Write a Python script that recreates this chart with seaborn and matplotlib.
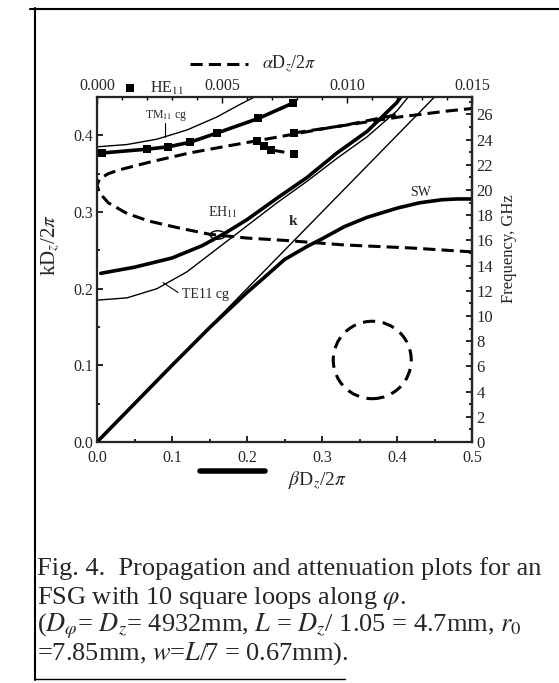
import numpy as np
import pandas as pd
import seaborn as sns
import matplotlib.pyplot as plt
from matplotlib.lines import Line2D
from matplotlib.patches import Ellipse
from matplotlib.ticker import MultipleLocator

# ---- datos (beta D/2pi , k D/2pi) ----
k_x = [0.0, 0.5]
k_y = [0.0, 0.5]

sw_x = [0.0, 0.05, 0.1, 0.15, 0.2, 0.22, 0.25, 0.28, 0.3, 0.33, 0.36, 0.4, 0.43, 0.46, 0.48, 0.5]
sw_y = [0.0, 0.05, 0.1, 0.149, 0.195, 0.212, 0.238, 0.255, 0.265, 0.281, 0.293, 0.305, 0.312, 0.316, 0.317, 0.317]

eh_x = [0.005, 0.05, 0.1, 0.14, 0.17, 0.2, 0.24, 0.28, 0.32, 0.36, 0.40, 0.405]
eh_y = [0.22, 0.228, 0.24, 0.256, 0.272, 0.29, 0.318, 0.345, 0.377, 0.405, 0.443, 0.45]

te_x = [0.0, 0.04, 0.08, 0.12, 0.16, 0.2, 0.24, 0.28, 0.32, 0.36, 0.40, 0.415]
te_y = [0.185, 0.188, 0.2, 0.222, 0.252, 0.282, 0.312, 0.34, 0.37, 0.398, 0.432, 0.45]

tm_x = [0.0, 0.04, 0.08, 0.12, 0.16, 0.19, 0.21]
tm_y = [0.385, 0.388, 0.395, 0.407, 0.424, 0.44, 0.45]

he_x = [0.007, 0.067, 0.095, 0.124, 0.16, 0.215, 0.261]
he_y = [0.377, 0.382, 0.385, 0.391, 0.403, 0.422, 0.442]

# ---- atenuacion (alpha D/2pi , k D/2pi) ----
att_a = [0.0150, 0.0126, 0.0099, 0.0075, 0.0060, 0.0045, 0.0033, 0.0021, 0.0012, 0.00045, 0.0001, 0.0,
         0.0001, 0.00045, 0.0009, 0.0021, 0.0037, 0.0052, 0.0071, 0.0093, 0.0121, 0.0141, 0.0150]
att_y = [0.248, 0.253, 0.257, 0.263, 0.266, 0.271, 0.279, 0.288, 0.298, 0.312, 0.325, 0.335,
         0.343, 0.350, 0.355, 0.365, 0.377, 0.386, 0.397, 0.410, 0.424, 0.432, 0.435]

he_att_a = [0.00639, 0.00666, 0.00696, 0.00786]
he_att_y = [0.393, 0.386, 0.381, 0.376]
he_att2_a = [0.00786, 0.0099, 0.0120]
he_att2_y = [0.403, 0.413, 0.427]

c_over_D = 3e8 / 4.932e-3 / 1e9  # GHz por unidad de kD/2pi

sns.set_theme(style="ticks")
plt.rcParams['font.family'] = ['Liberation Serif', 'DejaVu Serif']
plt.rcParams['mathtext.fontset'] = 'stix'
plt.rcParams['xtick.direction'] = 'in'
plt.rcParams['ytick.direction'] = 'in'

fig = plt.figure(figsize=(5.59, 6.83), dpi=100)
ax = fig.add_axes([97/559, 1-442/683, 375/559, 345/683])

thick = 2.6
thin = 1.0
dash = (0, (4, 2))

sns.lineplot(x=k_x, y=k_y, ax=ax, color='black', lw=thin, sort=False, estimator=None)
sns.lineplot(x=sw_x, y=sw_y, ax=ax, color='black', lw=thick, sort=False, estimator=None)
sns.lineplot(x=eh_x, y=eh_y, ax=ax, color='black', lw=thick, sort=False, estimator=None)
sns.lineplot(x=te_x, y=te_y, ax=ax, color='black', lw=thin, sort=False, estimator=None)
sns.lineplot(x=tm_x, y=tm_y, ax=ax, color='black', lw=thin, sort=False, estimator=None)
sns.lineplot(x=he_x, y=he_y, ax=ax, color='black', lw=thick, sort=False, estimator=None,
             marker='s', markersize=6, markeredgewidth=0)

ax.set_xlim(0, 0.5)
ax.set_ylim(0, 0.45)
ax.xaxis.set_minor_locator(MultipleLocator(0.05))
ax.yaxis.set_minor_locator(MultipleLocator(0.05))
ax.set_yticks([0.0, 0.1, 0.2, 0.3, 0.4])
ax.set_yticklabels(['0.0', '0.1', '0.2', '0.3', '0.4'])
ax.set_xticks([0.0, 0.1, 0.2, 0.3, 0.4, 0.5])
ax.set_xticklabels(['0.0', '0.1', '0.2', '0.3', '0.4', '0.5'])
ax.tick_params(which='both', labelsize=11.5, width=1.2, color='black')
ax.tick_params(axis='x', pad=6)
ax.tick_params(axis='y', pad=3)
ax.tick_params(which='major', length=4)
ax.tick_params(which='minor', length=2.5)
ax.set_xlabel('')
ax.set_ylabel(r'kD$_z$/2$\pi$', fontsize=15)
ax.yaxis.set_label_coords(-0.093, 0.57)
for s in ax.spines.values():
    s.set_linewidth(1.6)
    s.set_color('black')

# eje superior: atenuacion
axt = ax.twiny()
sns.lineplot(x=att_a, y=att_y, ax=axt, color='black', lw=2.2, sort=False, estimator=None, linestyle=dash)
sns.lineplot(x=he_att_a, y=he_att_y, ax=axt, color='black', lw=2.2, sort=False, estimator=None,
             linestyle=dash, marker='s', markersize=6, markeredgewidth=0)
sns.lineplot(x=he_att2_a, y=he_att2_y, ax=axt, color='black', lw=2.2, sort=False, estimator=None,
             linestyle=dash)
axt.plot(he_att2_a[:1], he_att2_y[:1], 's', color='black', ms=6, mew=0)
axt.set_xlim(0, 0.015)
axt.set_xticks([0.0, 0.005, 0.010, 0.015])
axt.set_xticklabels(['0.000', '0.005', '0.010', '0.015'])
axt.xaxis.set_minor_locator(MultipleLocator(0.001))
axt.tick_params(which='both', labelsize=11.5, width=1.0, color='black', pad=2)
axt.tick_params(which='major', length=4)
axt.tick_params(which='minor', length=2)
axt.set_xlabel('')

# eje derecho: frecuencia
axr = ax.twinx()
axr.set_ylim(0, 0.45 * c_over_D)
axr.yaxis.set_major_locator(MultipleLocator(2))
axr.yaxis.set_minor_locator(MultipleLocator(1))
axr.tick_params(which='both', labelsize=12, width=1.2, color='black', pad=3)
axr.tick_params(which='major', length=4)
axr.tick_params(which='minor', length=2.5)
axr.set_ylabel('Frequency, GHz', fontsize=12)
axr.yaxis.set_label_coords(1.077, 0.56)
axr.spines['right'].set_linewidth(1.6)

# etiquetas dentro del grafico
ax.text(0.092, 0.426, r'TM$_{11}$ cg', fontsize=8.5, ha='center', va='center')
ax.plot([0.09, 0.09], [0.416, 0.398], color='black', lw=0.8)
ax.text(0.167, 0.300, r'EH$_{11}$', fontsize=10, ha='center', va='center')
ax.add_patch(Ellipse((0.161, 0.27), 0.02, 0.011, fill=False, lw=1.0, color='black'))
ax.text(0.113, 0.192, 'TE11 cg', fontsize=10, ha='left', va='center')
ax.plot([0.088, 0.108], [0.208, 0.195], color='black', lw=0.8)
ax.text(0.261, 0.287, 'k', fontsize=11, ha='center', va='center', fontweight='bold')
ax.text(0.431, 0.326, 'SW', fontsize=10, ha='center', va='center')
ax.add_patch(Ellipse((0.367, 0.107), 0.104, 0.101, fill=False, lw=2.2, color='black', linestyle=(0, (4, 2.5))))

# leyendas fuera de los ejes
fig.add_artist(Line2D([190/559, 248/559], [1-64/683, 1-64/683], color='black', lw=2.2, linestyle=dash))
fig.text(262/559, 1-64/683, r'$\alpha$D$_z$/2$\pi$', fontsize=13, va='center')
fig.add_artist(Line2D([130/559], [1-88/683], marker='s', color='black', ms=5.5, mew=0))
fig.text(150/559, 1-88/683, r'HE$_{11}$', fontsize=11.5, va='center')
fig.add_artist(Line2D([200/559, 265/559], [1-471/683, 1-471/683], color='black', lw=4))
fig.text(288/559, 1-481/683, r'$\beta$D$_z$/2$\pi$', fontsize=14, va='center')

# marco y pie de figura
fig.add_artist(Line2D([35/559, 35/559], [1-8/683, 1-680/683], color='black', lw=1.5))
fig.add_artist(Line2D([30/559, 1.0], [1-9/683, 1-9/683], color='black', lw=1.5))
fig.add_artist(Line2D([35/559, 345/559], [1-679/683, 1-679/683], color='black', lw=1.0))

cap = ['Fig. 4.  Propagation and attenuation plots for an',
       r'FSG with 10 square loops along $\varphi$.',
       r'($D_\varphi$= $D_z$= 4932mm, $L$ = $D_z$/ 1.05 = 4.7mm, $r_0$',
       r'=7.85mm, $w$=$L$/7 = 0.67mm).']
cap_y = [569, 598, 626, 654]
for t, yy in zip(cap, cap_y):
    fig.text(37/559, 1-yy/683, t, fontsize=19, va='center', ha='left')

fig.savefig('out.png', dpi=100)
